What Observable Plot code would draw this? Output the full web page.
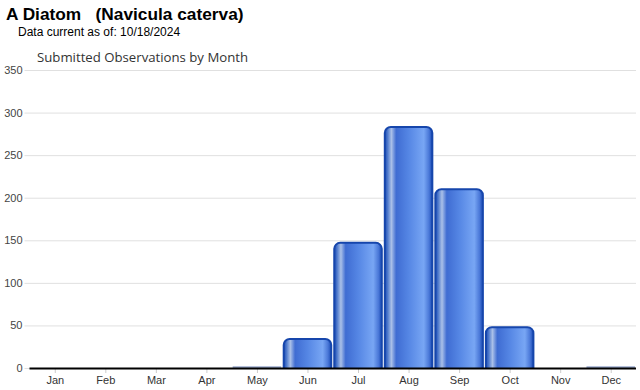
<!DOCTYPE html>
<html><head><meta charset="utf-8">
<script src="https://cdn.jsdelivr.net/npm/d3@7"></script>
<script src="https://cdn.jsdelivr.net/npm/@observablehq/plot@0.6"></script>
<style>
body{margin:0;background:#fff;font-family:"Liberation Sans",Arial,sans-serif;}
#wrap{position:relative;width:640px;height:390px;}
#t1{position:absolute;left:6px;top:4px;font-size:17.3px;font-weight:bold;color:#000;white-space:pre;}
#t2{position:absolute;left:18px;top:25px;font-size:12px;color:#000;}
#t3{position:absolute;left:37px;top:48px;font-size:13.2px;color:#333;font-family:"Open Sans","Liberation Sans",sans-serif;}
#chart{position:absolute;left:0;top:42px;}
</style></head>
<body>
<div id="wrap">
<div id="t1">A Diatom   (Navicula caterva)</div>
<div id="t2">Data current as of: 10/18/2024</div>
<div id="chart"></div>
<div id="t3">Submitted Observations by Month</div>
</div>
<script>
const months = ["Jan","Feb","Mar","Apr","May","Jun","Jul","Aug","Sep","Oct","Nov","Dec"];
const counts = [0,0,0,0,2,34,147,283,210,48,0,2];
const yTicks = [0,50,100,150,200,250,300,350];

const data = months.map((m,i)=>({month:m, count:counts[i]}));

const plot = Plot.plot({
  width: 640,
  height: 348,
  marginTop: 28,
  marginBottom: 22,
  marginLeft: 29.5,
  marginRight: 4,
  style: {fontFamily: "Liberation Sans, Arial, sans-serif", fontSize: "11px", color: "#333", background: "#fff"},
  x: {domain: months, padding: 0, round: false, label: null},
  y: {domain: [0, 350], ticks: yTicks, label: null},
  marks: [
    Plot.gridY(yTicks, {stroke: "#e0e0e0", strokeOpacity: 1, insetLeft: -5}),
    Plot.axisY(yTicks, {tickSize: 0, tickPadding: 7.5, color: "#444"}),
    Plot.axisX({tickSize: 5, stroke: "#ccc", color: "#333", tickPadding: 3}),
    Plot.barY(data.filter(d=>d.count>0 && d.count<5), {x: "month", y: "count", fill: "#98a8cc", insetLeft: 1, insetRight: 1}),
    Plot.barY(data.filter(d=>d.count>=5), {x: "month", y: "count", fill: "url(#barGrad)", stroke: "#1646ac", strokeWidth: 2, rx: 6, insetLeft: 1.5, insetRight: 1.5, insetBottom: -10, clip: true}),
    Plot.ruleY([0], {stroke: "#000", strokeWidth: 2})
  ]
});

const ns = "http://www.w3.org/2000/svg";
const defs = document.createElementNS(ns, "defs");
defs.innerHTML = `<linearGradient id="barGrad" x1="0" x2="1" y1="0" y2="0">
  <stop offset="0" stop-color="#1a4ab4"/>
  <stop offset="0.06" stop-color="#4f7acc"/>
  <stop offset="0.14" stop-color="#aac0e8"/>
  <stop offset="0.24" stop-color="#3f6cd2"/>
  <stop offset="0.5" stop-color="#5586e4"/>
  <stop offset="0.82" stop-color="#78a6f4"/>
  <stop offset="0.93" stop-color="#4a78d8"/>
  <stop offset="1" stop-color="#1a4ab4"/>
</linearGradient>`;
plot.insertBefore(defs, plot.firstChild);
document.getElementById("chart").appendChild(plot);
</script>
</body></html>
